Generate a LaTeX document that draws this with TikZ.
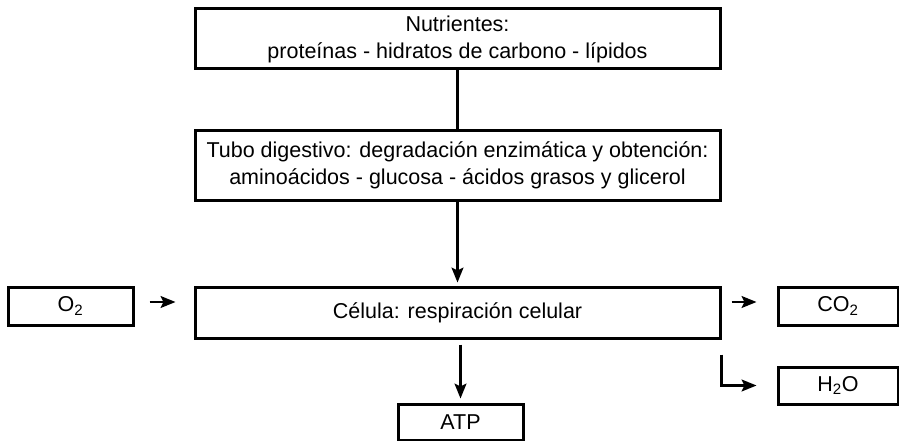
\documentclass[tikz,border=0pt]{standalone}
\usepackage{fontspec}
\setmainfont{Liberation Sans}
\usetikzlibrary{arrows.meta}
\tikzset{
    caja/.style={draw, line width=3pt, inner sep=0pt, align=center,
        font=\fontsize{21.5}{27}\selectfont},
    flecha/.style={line width=2.1pt, -{Stealth[length=15pt,width=12pt,inset=3pt]}}
}
\begin{document}
\begin{tikzpicture}[x=1pt,y=-1pt]
    %margenes
    \useasboundingbox (0,0) rectangle (899,441);
    %cajas centrales
    \node[caja, minimum width=525pt, minimum height=60pt] (nutr) at (457.5,39)
        {Nutrientes:\\proteínas - hidratos de carbono - lípidos};
    \node[caja, minimum width=525pt, minimum height=69pt] (tubo) at (457.5,165.5)
        {Tubo digestivo: degradación enzimática y obtención:\\aminoácidos - glucosa - ácidos grasos y glicerol};
    \node[caja, minimum width=525pt, minimum height=51pt] (celula) at (457.5,312.5)
        {Célula: respiración celular};
    %cajas laterales
    \node[caja, minimum width=125pt, minimum height=38pt] (o2) at (70.5,306) {O\textsubscript{2}};
    \node[caja, minimum width=120pt, minimum height=38pt] (co2) at (838,306) {CO\textsubscript{2}};
    \node[caja, minimum width=120pt, minimum height=37pt] (h2o) at (838,385.5) {H\textsubscript{2}O};
    \node[caja, minimum width=125pt, minimum height=36pt] (atp) at (460.5,422) {ATP};
    %collegamenti
    \draw[line width=2.1pt] (nutr) -- (tubo);
    \draw[flecha, shorten >=3pt] (tubo) -- (celula);
    \draw[flecha] ([xshift=15pt,yshift=4pt]o2.east) -- ([xshift=-18pt,yshift=4pt]o2.east -| celula.west);
    \draw[flecha] ([xshift=10pt,yshift=4pt]co2.west -| celula.east) -- ([xshift=-20pt,yshift=4pt]co2.west);
    \draw[flecha] ([yshift=-15pt]celula.south east) |- ([xshift=-20pt]h2o.west);
    \draw[flecha] ([yshift=-5pt]celula.south -| atp) -- ([yshift=4pt]atp.north);
\end{tikzpicture}
\end{document}
